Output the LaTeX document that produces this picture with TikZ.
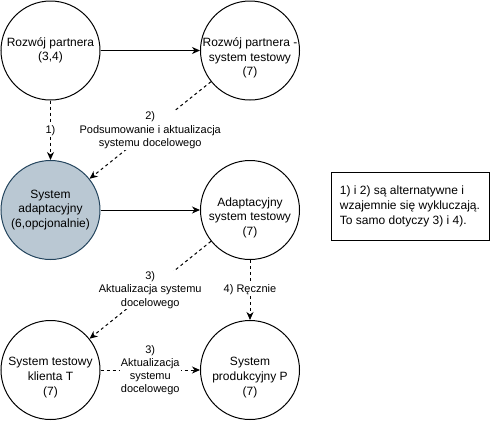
\documentclass[tikz,border=0pt]{standalone}
\usepackage{fontspec}
\setmainfont{Liberation Sans}
\usetikzlibrary{arrows.meta}
\definecolor{nodefill}{HTML}{BAC8D3}
\definecolor{nodestroke}{HTML}{23445D}
\tikzset{
  circ/.style={circle, draw=black, line width=1pt, minimum size=99pt, inner sep=0pt, align=center, font=\fontsize{12}{14.4}\selectfont},
  adapt/.style={circ, fill=nodefill, draw=nodestroke},
  ctext/.style={inner sep=0pt, align=center, font=\fontsize{12}{14.6}\selectfont},
  conn/.style={line width=1pt, -{Stealth[length=8pt,width=7pt,inset=2.5pt]}},
  dconn/.style={conn, dash pattern=on 3pt off 3pt},
  elabel/.style={fill=white, inner sep=1pt, align=center, font=\fontsize{11}{13.2}\selectfont},
  notebox/.style={draw=black, line width=1pt, minimum width=158pt, minimum height=68pt, inner sep=0pt, align=left, font=\fontsize{12}{15}\selectfont}
}
\begin{document}
\begin{tikzpicture}[x=1pt,y=-1pt]
\useasboundingbox (0,0) rectangle (491,421);
\node[circ] (rp) at (50.5,50.5) {Rozwój partnera\\(3,4)};
\node[circ] (rpt) at (250,50.5) {};
\node[ctext] (rpt-t) at ([yshift=-7.5pt]rpt.center) {Rozwój partnera -\\system testowy\\(7)};
\node[adapt] (sa) at (50.5,210) {System\\adaptacyjny\\(6,opcjonalnie)};
\node[circ] (ast) at (250,210) {};
\node[ctext] (ast-t) at ([yshift=-7.5pt]ast.center) {Adaptacyjny\\system testowy\\(7)};
\node[circ] (stk) at (50.5,370) {};
\node[ctext] (stk-t) at ([yshift=-7.5pt]stk.center) {System testowy\\klienta T\\(7)};
\node[circ] (sp) at (250,370) {};
\node[ctext] (sp-t) at ([yshift=-7.5pt]sp.center) {System\\produkcyjny P\\(7)};
\node[notebox] (note) at (410,206) {1) i 2) są alternatywne i\\wzajemnie się wykluczają.\\To samo dotyczy 3) i 4).};

\draw[conn] (rp) -- (rpt);
\draw[dconn] (rp) -- node[elabel] {1)} (sa);
\draw[dconn] (rpt) -- node[elabel] {2)\\Podsumowanie i aktualizacja\\systemu docelowego} (sa);
\draw[conn] (sa) -- (ast);
\draw[dconn] (ast) -- node[elabel] {3)\\Aktualizacja systemu\\docelowego} (stk);
\draw[dconn] (ast) -- node[elabel] {4) Ręcznie} (sp);
\draw[dconn] (stk) -- node[elabel] {3)\\Aktualizacja\\systemu\\docelowego} (sp);
\end{tikzpicture}
\end{document}
